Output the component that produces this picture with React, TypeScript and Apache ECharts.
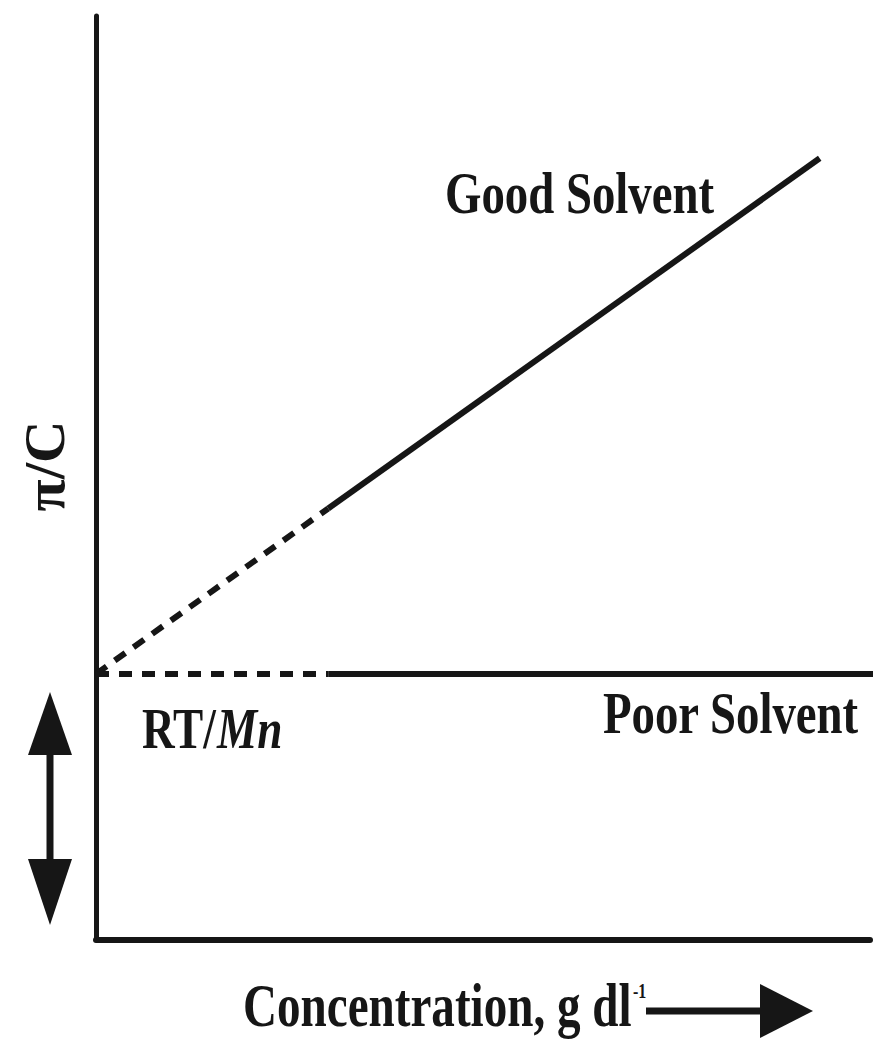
import React, { useEffect, useRef } from "react";
import * as echarts from "echarts";

// Data (axis units 0..100 on both axes, no ticks shown)
const goodX = [0, 30, 93.5];
const goodY = [28.8, 46.7, 84.6];
const poorX = [0, 30, 102];
const poorY = [28.8, 28.8, 28.8];

const goodLabel = "Good Solvent";
const poorLabel = "Poor Solvent";
const rtLabel = "RT/";
const mnLabel = "Mn";
const yLabel = "π/C";
const xLabel = "Concentration, g dl";
const xLabelSup = "-1";

const INK = "#161616";
const FONT = '"Liberation Serif", "Times New Roman", serif';

function pts(xs: number[], ys: number[], from: number, to: number) {
  const out: number[][] = [];
  for (let i = from; i <= to; i++) out.push([xs[i], ys[i]]);
  return out;
}

export default function App() {
  const ref = useRef<HTMLDivElement>(null);
  useEffect(() => {
    if (!ref.current) return;
    const chart = echarts.init(ref.current, null, { renderer: "svg" });
    const txt = (
      text: string,
      x: number,
      y: number,
      size: number,
      opts: any = {}
    ) => ({
      type: "text",
      x,
      y,
      scaleX: opts.scaleX ?? 0.78,
      rotation: opts.rotation ?? 0,
      style: {
        text,
        font: `${opts.italic ? "italic " : ""}bold ${size}px ${FONT}`,
        fill: INK,
        align: opts.align ?? "left",
        textAlign: opts.align ?? "left",
        verticalAlign: "middle",
        textVerticalAlign: "middle",
      },
    });
    const line = (width: number, dashed: boolean) => ({
      color: INK,
      width,
      type: dashed ? [13, 10] : "solid",
      cap: "butt",
    });
    chart.setOption({
      animation: false,
      grid: { left: 96, right: 7, top: 16, bottom: 102 },
      xAxis: {
        type: "value",
        min: 0,
        max: 100,
        axisLine: { show: true, lineStyle: { color: INK, width: 6 } },
        axisTick: { show: false },
        axisLabel: { show: false },
        splitLine: { show: false },
      },
      yAxis: {
        type: "value",
        min: 0,
        max: 100,
        axisLine: { show: true, lineStyle: { color: INK, width: 5 } },
        axisTick: { show: false },
        axisLabel: { show: false },
        splitLine: { show: false },
      },
      series: [
        {
          type: "line",
          data: pts(goodX, goodY, 0, 1),
          symbol: "none",
          lineStyle: line(6, true),
          clip: false,
        },
        {
          type: "line",
          data: pts(goodX, goodY, 1, 2),
          symbol: "none",
          lineStyle: line(6, false),
          clip: false,
        },
        {
          type: "line",
          data: pts(poorX, poorY, 0, 1),
          symbol: "none",
          lineStyle: line(6, true),
          clip: false,
        },
        {
          type: "line",
          data: pts(poorX, poorY, 1, 2),
          symbol: "none",
          lineStyle: line(6, false),
          clip: false,
        },
      ],
      graphic: [
        txt(goodLabel, 445, 193, 60),
        txt(poorLabel, 603, 713, 60),
        txt(rtLabel, 142, 728, 58),
        txt(mnLabel, 217, 728, 58, { italic: true }),
        txt(yLabel, 45, 466, 56, { rotation: Math.PI / 2, align: "center", scaleX: 1.05 }),
        txt(xLabel, 243, 1005, 62, { scaleX: 0.76 }),
        txt(xLabelSup, 633, 991, 20, { scaleX: 0.8 }),
        // bottom arrow
        {
          type: "line",
          shape: { x1: 646, y1: 1011, x2: 770, y2: 1011 },
          style: { stroke: INK, lineWidth: 7 },
        },
        {
          type: "polygon",
          shape: { points: [[760, 984], [813, 1011], [760, 1038]] },
          style: { fill: INK },
        },
        // vertical double arrow
        {
          type: "line",
          shape: { x1: 50, y1: 750, x2: 50, y2: 865 },
          style: { stroke: INK, lineWidth: 7 },
        },
        {
          type: "polygon",
          shape: { points: [[50, 692], [72, 755], [28, 755]] },
          style: { fill: INK },
        },
        {
          type: "polygon",
          shape: { points: [[50, 925], [72, 859], [28, 859]] },
          style: { fill: INK },
        },
      ],
    });
    return () => chart.dispose();
  }, []);
  return (
    <div
      ref={ref}
      style={{ position: "absolute", left: 0, top: 0, width: 877, height: 1042, background: "#fff" }}
    />
  );
}
